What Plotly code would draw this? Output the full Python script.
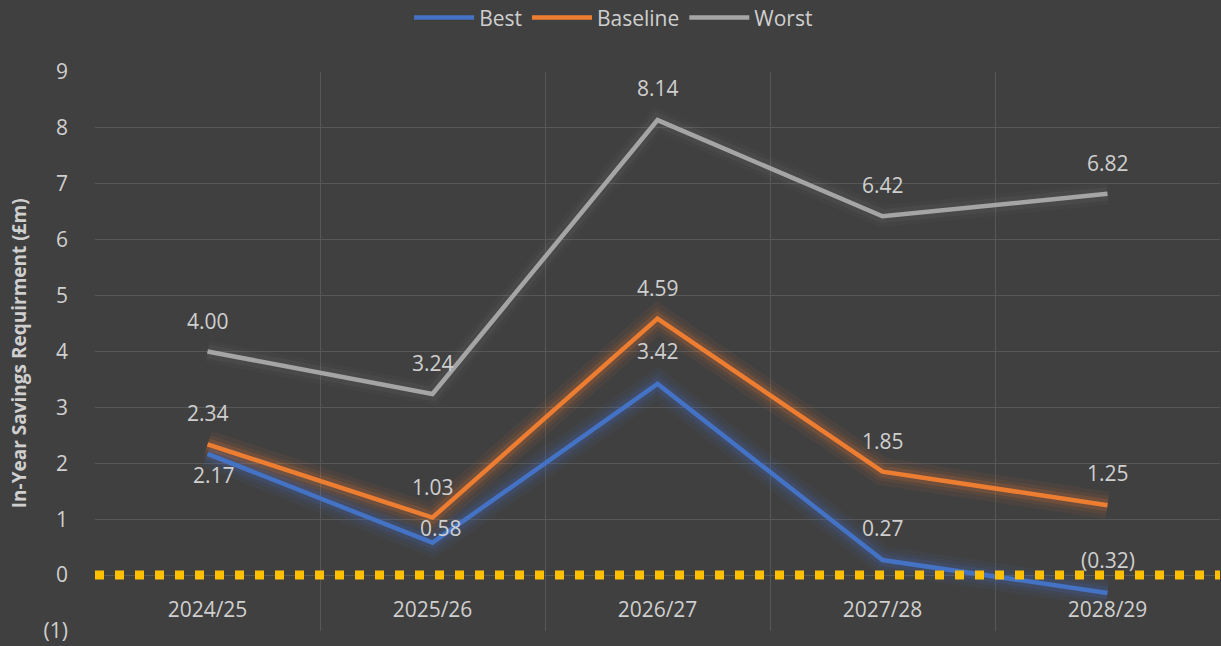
import plotly.graph_objects as go

categories = ["2024/25", "2025/26", "2026/27", "2027/28", "2028/29"]
best = [2.17, 0.58, 3.42, 0.27, -0.32]
baseline = [2.34, 1.03, 4.59, 1.85, 1.25]
worst = [4.00, 3.24, 8.14, 6.42, 6.82]
y_tickvals = [-1, 0, 1, 2, 3, 4, 5, 6, 7, 8, 9]
y_ticktext = ["(1)", "0", "1", "2", "3", "4", "5", "6", "7", "8", "9"]

BG = "#404040"
GRID = "#575757"
TXT = "#CFCFCF"
FONT = "Open Sans"

series = [
    ("Best", best, "#4472C4", (68, 114, 196)),
    ("Baseline", baseline, "#ED7D31", (237, 125, 49)),
    ("Worst", worst, "#A5A5A5", (165, 165, 165)),
]

# label offsets (style): per series per point (xshift, yshift)
label_shifts = {
    "Best": [(6, -21), (8, 15), (0, 33), (0, 32), (0, 33)],
    "Baseline": [(0, 31), (0, 31), (0, 31), (0, 31), (0, 32)],
    "Worst": [(0, 31), (0, 31), (0, 32), (0, 31), (0, 31)],
}


def fmt(v):
    return f"({abs(v):.2f})" if v < 0 else f"{v:.2f}"


fig = go.Figure()

# glow layers
for name, vals, col, rgb in series:
    if name == "Worst":
        glow_alpha = [(22, 0.04), (14, 0.06)]
    else:
        glow_alpha = [(28, 0.06), (19, 0.09), (12, 0.16)]
    for w, a in glow_alpha:
        fig.add_trace(go.Scatter(
            x=categories, y=vals, mode="lines",
            line=dict(color=f"rgba({rgb[0]},{rgb[1]},{rgb[2]},{a})", width=w),
            showlegend=False, hoverinfo="skip"))

for name, vals, col, rgb in series:
    fig.add_trace(go.Scatter(
        x=categories, y=vals, mode="lines", name=name,
        line=dict(color=col, width=4.5)))

# data labels
for name, vals, col, rgb in series:
    for c, v, (dx, dy) in zip(categories, vals, label_shifts[name]):
        fig.add_annotation(x=c, y=v, text=fmt(v), showarrow=False,
                           xshift=dx, yshift=dy,
                           font=dict(family=FONT, size=21, color=TXT))

# zero reference dotted line
fig.add_shape(type="line", xref="paper", yref="y", x0=0, x1=1, y0=0, y1=0,
              line=dict(color="#FFC000", width=9, dash="9px,11px"), layer="above")

fig.add_annotation(text="<b>In-Year Savings Requirment (£m)</b>", xref="paper", yref="paper",
                   x=-0.0675, xanchor="center", y=0.497, yanchor="middle",
                   textangle=-90, showarrow=False,
                   font=dict(family=FONT, size=19, color=TXT))

fig.update_layout(
    width=1221, height=646,
    paper_bgcolor=BG, plot_bgcolor=BG,
    margin=dict(l=95, r=1, t=72, b=15, autoexpand=False),
    font=dict(family=FONT, size=21, color=TXT),
    showlegend=True,
    legend=dict(orientation="h", x=0.461, xanchor="center",
                y=1.097, yanchor="middle",
                bgcolor="rgba(0,0,0,0)", font=dict(family=FONT, size=21, color=TXT),
                itemwidth=60, tracegroupgap=0),
    xaxis=dict(type="category", range=[-0.5, 4.5], showgrid=True, gridcolor=GRID,
               gridwidth=1, tickson="boundaries", showline=False, zeroline=False,
               anchor="free", position=0.1, ticks="", ticklabelstandoff=20,
               tickangle=0, automargin=False,
               tickfont=dict(family=FONT, size=21, color=TXT)),
    yaxis=dict(range=[-1, 9], tickvals=y_tickvals, ticktext=y_ticktext,
               showgrid=True, gridcolor=GRID, gridwidth=1, zeroline=False,
               showline=False, ticks="", ticklabelstandoff=26, automargin=False,
               tickfont=dict(family=FONT, size=21, color=TXT)),
)

fig.write_html("out.html", config={"displayModeBar": False},
               post_script="document.body.style.margin='0';document.body.style.background='#404040';")
